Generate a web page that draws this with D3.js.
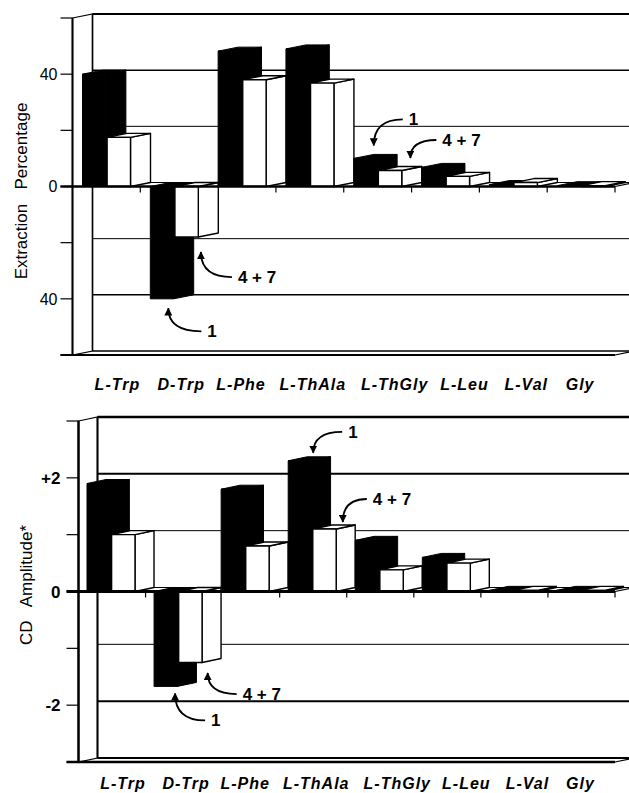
<!DOCTYPE html>
<html lang="en">
<head>
<meta charset="UTF-8" />
<title>Extraction Percentage and CD Amplitude</title>
<script src="https://d3js.org/d3.v7.min.js"></script>
<style>
  body { margin: 0; background: #fff; }
  svg { display: block; font-family: "Liberation Sans", Arial, sans-serif; }
  .cat-label { font-size: 16px; font-weight: bold; font-style: italic; letter-spacing: 1px; text-anchor: middle; }
  .axis-title { font-size: 17px; text-anchor: middle; }
  .note { font-size: 17px; font-weight: bold; }
</style>
</head>
<body>
<svg id="chart"></svg>
<script>
const width = 629, height = 793;

const categories = ["L-Trp", "D-Trp", "L-Phe", "L-ThAla", "L-ThGly", "L-Leu", "L-Val", "Gly"];
const seriesNames = ["1", "4 + 7"];

// top panel: extraction percentage
const extraction1 = [40, -40, 48.2, 49, 10, 6.8, 0.7, 0.3];
const extraction47 = [17.5, -18, 38, 36.8, 5.7, 3.6, 1.4, 0.3];
const extractionTicks = [-60, -40, -20, 0, 20, 40, 60];
const extractionTickLabels = ["", "40", "", "0", "", "40", ""];

// bottom panel: CD amplitude
const cd1 = [1.9, -1.67, 1.8, 2.3, 0.9, 0.6, 0.02, 0.02];
const cd47 = [1.0, -1.25, 0.8, 1.1, 0.38, 0.5, 0.02, 0.02];
const cdTicks = [-3, -2, -1, 0, 1, 2, 3];
const cdTickLabels = ["", "-2", "", "0", "", "+2", ""];

// the category names under the axis are hand-spaced in the original
const labelShift = [11, 7, -1, 3, 17, 19, 13, -1];

const svg = d3.select("#chart").attr("width", width).attr("height", height);

svg.append("defs").append("marker")
  .attr("id", "head")
  .attr("viewBox", "0 0 10 10")
  .attr("refX", 9).attr("refY", 5)
  .attr("markerWidth", 8).attr("markerHeight", 8)
  .attr("markerUnits", "userSpaceOnUse")
  .attr("orient", "auto")
  .append("path").attr("d", "M0,0L10,5L0,10z").attr("fill", "#000");

const panels = [
  {
    series: [extraction1, extraction47], domain: [-60, 60],
    ticks: extractionTicks, tickLabels: extractionTickLabels,
    left: 72.5, right: 615, top: 18, bottom: 355, dx: 20, dy: -4, barStart: 10,
    tickLen: 12, labelGap: 3, tickWeight: "normal", tickSize: 16, catY: 390,
    title: "Extraction\u00a0\u00a0 Percentage", titleX: 27, titleY: 191, lw: 1.5,
    notes: [
      { cat: "L-ThGly", s: 0, tip: [20, -13], txt: [35, -20] },
      { cat: "L-ThGly", s: 1, tip: [32, -12.5], txt: [32, -12] },
      { cat: "D-Trp", s: 1, tip: [26, 15], txt: [37, 31] },
      { cat: "D-Trp", s: 0, tip: [18, 9.5], txt: [39, 29] }
    ]
  },
  {
    series: [cd1, cd47], domain: [-3, 3],
    ticks: cdTicks, tickLabels: cdTickLabels,
    left: 78.5, right: 615, top: 421, bottom: 762, dx: 19, dy: -4, barStart: 8.5,
    tickLen: 12, labelGap: 6, tickWeight: "bold", tickSize: 17, catY: 789,
    title: "CD\u00a0\u00a0 Amplitude*", titleX: 32, titleY: 585, lw: 2,
    notes: [
      { cat: "L-ThAla", s: 0, tip: [25, -8], txt: [35, -15] },
      { cat: "L-ThAla", s: 1, tip: [30, -7], txt: [30, -17] },
      { cat: "D-Trp", s: 1, tip: [29, 10.5], txt: [35, 27] },
      { cat: "D-Trp", s: 0, tip: [21, 7], txt: [36, 33] }
    ]
  }
];

function line(g, x1, y1, x2, y2, w) {
  g.append("line").attr("x1", x1).attr("y1", y1).attr("x2", x2).attr("y2", y2)
    .attr("stroke", "#000").attr("stroke-width", w);
}

function drawPanel(p) {
  const g = svg.append("g");
  const x = d3.scaleBand().domain(categories).range([p.left, p.right]);
  const inner = d3.scaleBand().domain(seriesNames).range([p.barStart, p.barStart + 48]).paddingInner(0.05);
  const y = d3.scaleLinear().domain(p.domain).range([p.bottom, p.top]);
  const dx = p.dx, dy = p.dy;
  const y0 = y(0);
  const yTop = y(p.domain[1]), yBot = y(p.domain[0]);
  const tickX = p.left - p.tickLen;

  // left wall
  g.append("path")
    .attr("d", `M${p.left},${yTop}L${p.left + dx},${yTop + dy}L${p.left + dx},${yBot + dy}L${p.left},${yBot}Z`)
    .attr("fill", "#fff").attr("stroke", "#000").attr("stroke-width", 1.2);

  // back wall grid
  p.ticks.forEach((t, i) => {
    if (t === 0 || t === p.domain[0] || t === p.domain[1]) return;
    line(g, p.left + dx, y(t) + dy, width, y(t) + dy, p.tickLabels[i] ? p.lw : 1);
  });
  line(g, p.left + dx, yTop + dy, width, yTop + dy, p.lw + 0.5);
  line(g, p.left + dx, yTop + dy, p.left + dx, yBot + dy, p.lw);
  line(g, p.left + dx, y0 + dy, width, y0 + dy, 1);

  // floor at the bottom
  line(g, p.left + dx, yBot + dy, width, yBot + dy, p.lw);
  line(g, tickX, yBot, p.right, yBot, p.lw + 0.5);
  line(g, p.right, yBot, p.right + dx, yBot + dy, 1.2);

  // category ticks
  categories.forEach(c => line(g, x(c) + x.bandwidth(), y0, x(c) + x.bandwidth(), y0 + 6, 1.2));

  // bars
  categories.forEach((c, i) => {
    seriesNames.forEach((s, k) => {
      const v = p.series[k][i];
      const x0 = x(c) + inner(s), w = inner.bandwidth();
      const yv = y(v);
      const fill = k === 0 ? "#000" : "#fff";
      const bar = g.append("g").attr("fill", fill).attr("stroke", "#000")
        .attr("stroke-width", k === 0 ? 1 : 1.4).attr("stroke-linejoin", "round");
      const yt = Math.min(yv, y0); // top of the box
      const yb = Math.max(yv, y0);
      bar.append("path").attr("d",
        `M${x0 + w},${yt}L${x0 + w + dx},${yt + dy}L${x0 + w + dx},${yb + dy}L${x0 + w},${yb}Z`);
      bar.append("path").attr("d",
        `M${x0},${yt}L${x0 + w},${yt}L${x0 + w + dx},${yt + dy}L${x0 + dx},${yt + dy}Z`);
      bar.append("rect").attr("x", x0).attr("y", yt).attr("width", w).attr("height", yb - yt);
    });
  });

  // front zero line and left axis
  line(g, tickX, y0, p.right, y0, p.lw + 1);
  line(g, p.right, y0, p.right + dx, y0 + dy, 1.2);
  line(g, p.left, yTop, p.left, yBot, p.lw + 0.5);

  p.ticks.forEach((t, i) => {
    line(g, tickX, y(t), p.left, y(t), 1.2);
    if (p.tickLabels[i]) {
      g.append("text").attr("x", tickX - p.labelGap).attr("y", y(t)).attr("dy", "0.36em")
        .attr("text-anchor", "end").attr("font-size", p.tickSize).attr("font-weight", p.tickWeight)
        .text(p.tickLabels[i]);
    }
  });

  // category labels
  g.selectAll(".cat-label").data(categories).join("text")
    .attr("class", "cat-label")
    .attr("x", (d, i) => x(d) + x.bandwidth() / 2 + labelShift[i])
    .attr("y", p.catY)
    .text(d => d);

  // axis title
  g.append("text").attr("class", "axis-title")
    .attr("transform", "rotate(-90)")
    .attr("x", -p.titleY).attr("y", p.titleX)
    .text(p.title);

  // arrows with series names
  p.notes.forEach(n => {
    const i = categories.indexOf(n.cat);
    const v = p.series[n.s][i];
    const tx = x(n.cat) + inner(seriesNames[n.s]) + n.tip[0];
    const ty = y(v) + n.tip[1];
    const lx = tx + n.txt[0], ly = ty + n.txt[1];
    const sx = lx - 6, sy = ly - 6;
    g.append("path")
      .attr("d", `M${sx},${sy}Q${tx},${sy} ${tx},${ty}`)
      .attr("fill", "none").attr("stroke", "#000").attr("stroke-width", 1.8)
      .attr("marker-end", "url(#head)");
    g.append("text").attr("class", "note").attr("x", lx).attr("y", ly).text(seriesNames[n.s]);
  });
}

panels.forEach(drawPanel);
</script>
</body>
</html>
